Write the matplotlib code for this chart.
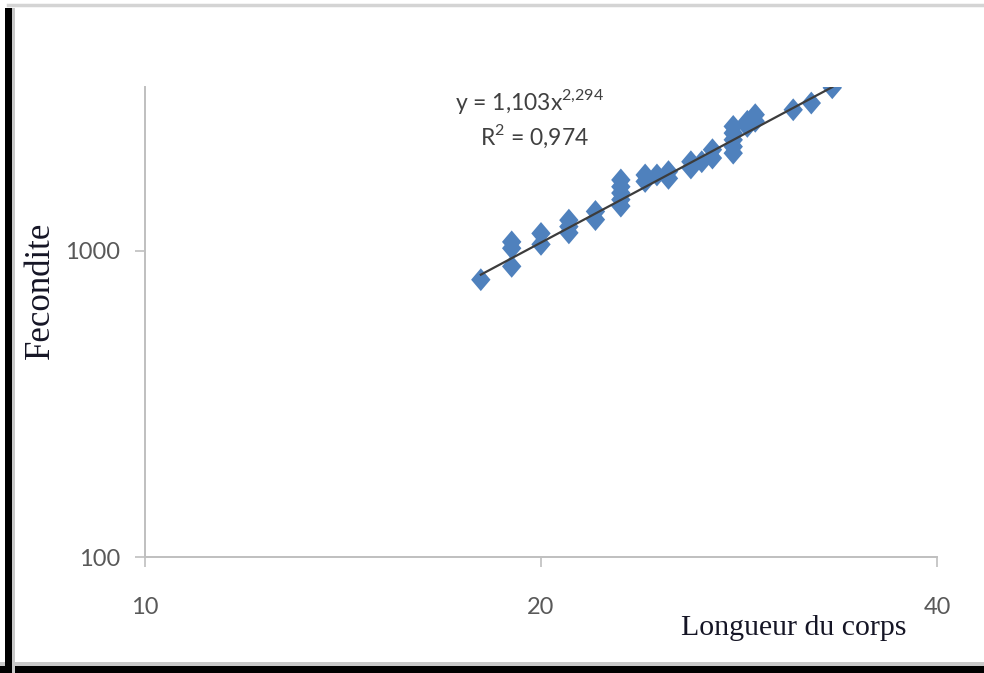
import numpy as np
import matplotlib
matplotlib.use("Agg")
import matplotlib.pyplot as plt
from matplotlib.patches import Rectangle
from matplotlib.lines import Line2D

plt.rcParams["font.family"] = ["Lato", "DejaVu Sans"]

# === Data ===
length = [18.0, 19.0, 19.0, 19.0, 20.0, 20.0, 21.0, 21.0, 21.0, 22.0, 22.0,
          23.0, 23.0, 23.0, 23.0, 23.0, 24.0, 24.0, 24.5, 25.0, 25.0,
          26.0, 26.0, 26.5, 27.0, 27.0, 28.0, 28.0, 28.0, 28.0, 28.0,
          28.7, 28.7, 29.1, 29.1, 31.1, 32.1, 33.3]
fecundity = [805, 1070, 1020, 890, 1140, 1050, 1260, 1200, 1145, 1345, 1265,
             1705, 1620, 1545, 1470, 1400, 1770, 1685, 1770, 1815, 1725,
             1955, 1865, 1955, 2140, 2010, 2550, 2425, 2305, 2190, 2085,
             2650, 2550, 2785, 2650, 2890, 3040, 3410]

# power trendline y = a * x^b (as shown on the chart)
coef_a = 1.103
coef_b = 2.294
eq_label = r"y = 1,103x$^{\mathregular{2{,}294}}$"
r2_label = r"R$^{\mathregular{2}}$ = 0,974"

x_ticks = [10, 20, 40]
x_ticklabels = ["10", "20", "40"]
y_ticks = [100, 1000]
y_ticklabels = ["100", "1000"]

W, H = 984, 673
fig = plt.figure(figsize=(W / 100, H / 100), dpi=100)
fig.patch.set_facecolor("white")

# plot area (pixels: x 145..937, y 87..557)
ax = fig.add_axes([145 / W, 1 - 557 / H, (937 - 145) / W, (557 - 87) / H])
ax.set_xscale("log", base=2)
ax.set_yscale("log")
ax.set_xlim(10, 40)
ax.set_ylim(100, 3430)

# diamond marker, a bit taller than wide (Excel style)
diamond = [(0, 1), (0.85, 0), (0, -1), (-0.85, 0), (0, 1)]
ax.scatter(length, fecundity, marker=diamond, s=270, color="#4F81BD",
           edgecolors="none", zorder=2)

xf = np.geomspace(min(length), max(length), 100)
ax.plot(xf, coef_a * xf ** coef_b, color="#3c3c3c", lw=1.6, zorder=3)

ax.text(0.486, 0.970, eq_label, transform=ax.transAxes, ha="center",
        va="center", fontsize=16.5, color="#404040")
ax.text(0.492, 0.894, r2_label, transform=ax.transAxes, ha="center",
        va="center", fontsize=16.5, color="#404040")

# axes styling
for s in ["top", "right"]:
    ax.spines[s].set_visible(False)
for s in ["left", "bottom"]:
    ax.spines[s].set_color("#bfbfbf")
    ax.spines[s].set_linewidth(1.4)
ax.minorticks_off()
ax.set_xticks(x_ticks)
ax.set_xticklabels(x_ticklabels)
ax.set_yticks(y_ticks)
ax.set_yticklabels(y_ticklabels)
ax.tick_params(axis="x", length=7, width=1.2, color="#bfbfbf", pad=22,
               labelsize=17, labelcolor="#595959")
ax.tick_params(axis="y", length=7, width=1.2, color="#bfbfbf", pad=11,
               labelsize=17, labelcolor="#595959")

# axis titles (serif, placed like the original)
fig.text(794 / W, 1 - 628 / H, "Longueur du corps", ha="center", va="center",
         fontsize=21.5, family="Liberation Serif", color="#151525")
fig.text(40 / W, 1 - 290 / H, "Fecondite", ha="center", va="center",
         rotation=90, fontsize=25, family="Liberation Serif", color="#151525")

# frame of the screenshot: gray top line, thick black left and bottom edges
fig.add_artist(Line2D([8 / W, 1], [1 - 5 / H, 1 - 5 / H], transform=fig.transFigure,
                      color="#d4d4d4", lw=2.5))
fig.add_artist(Rectangle((0, 6 / H), 1, 5 / H, transform=fig.transFigure,
                         color="#c8c8c8", lw=0))
fig.add_artist(Rectangle((0, 0), 1, 7 / H, transform=fig.transFigure,
                         color="black", lw=0))
fig.add_artist(Rectangle((12 / W, 0), 3 / W, 1 - 8 / H, transform=fig.transFigure,
                         color="#c8c8c8", lw=0))
fig.add_artist(Rectangle((5 / W, 0), 7 / W, 1 - 8 / H, transform=fig.transFigure,
                         color="black", lw=0))

fig.savefig("out.png", dpi=100)
plt.close(fig)
